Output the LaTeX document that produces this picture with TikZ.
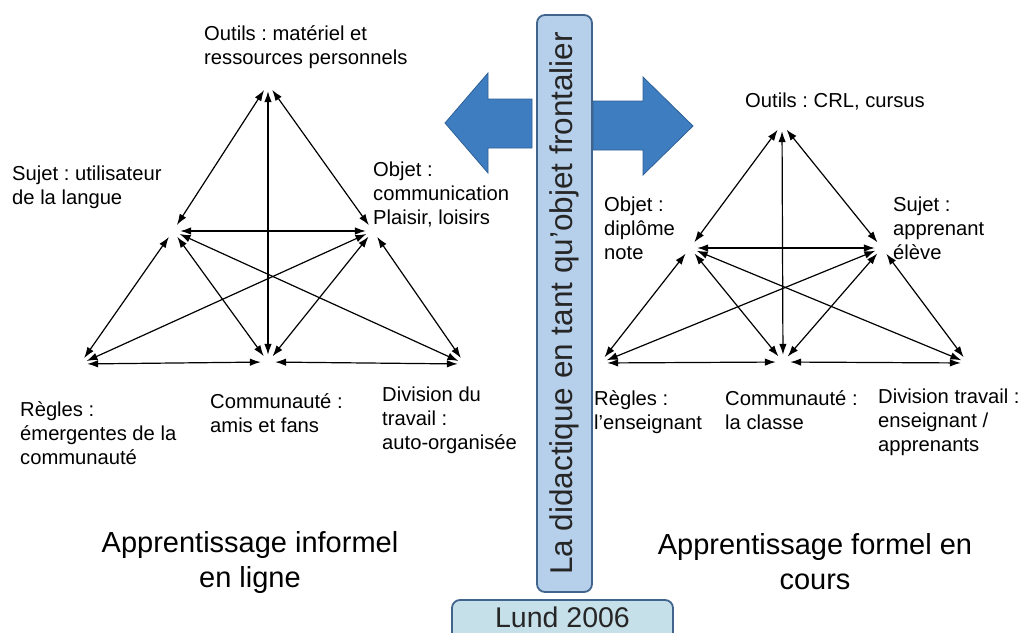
\documentclass[tikz,border=0pt]{standalone}
\usepackage{fontspec}
\setmainfont{Liberation Sans}
\usepackage{xcolor}
\usetikzlibrary{arrows.meta, positioning}
\definecolor{barblue}{RGB}{182,207,234}
\definecolor{lundblue}{RGB}{198,224,234}
\definecolor{edgeblue}{RGB}{65,100,140}
\definecolor{arrowblue}{RGB}{61,125,192}
\definecolor{arrowedge}{RGB}{47,96,150}
\frenchspacing
\begin{document}
\begin{tikzpicture}[
  x=1pt, y=-1pt,
  lbl/.style={anchor=north west, align=left, inner sep=0pt, font=\fontsize{20.2}{24}\selectfont},
  big/.style={align=center, inner sep=0pt, font=\fontsize{29}{35}\selectfont},
  vtx/.style={circle, inner sep=0pt, minimum size=14pt},
  link/.style={{Latex[length=11pt,width=7.5pt]}-{Latex[length=11pt,width=7.5pt]}, line width=1.2pt},
  block/.style={fill=arrowblue, draw=arrowedge, line width=0.8pt, line join=miter},
  panel/.style={draw=edgeblue, line width=1.8pt, rounded corners=8pt},
]
\useasboundingbox (0,0) rectangle (1022,632);

% block arrows
\draw[block] (445,123) -- (488,73) -- (488,99) -- (532,99) -- (532,148) -- (488,148) -- (488,173) -- cycle;
\draw[block] (693,126) -- (643,77) -- (643,101) -- (593,101) -- (593,150) -- (643,150) -- (643,175) -- cycle;

\node[panel, fill=barblue, rotate=90, minimum width=577pt, minimum height=55pt, inner sep=0pt,
      font=\fontsize{31.5}{36}\selectfont, text=black!85] (bar) at (564.5,303.5)
   {La didactique en tant qu’objet frontalier};
\node[panel, fill=lundblue, minimum width=221pt, minimum height=44pt, inner sep=0pt,
      text height=20.5pt, text depth=10pt,
      font=\fontsize{28.5}{34}\selectfont, text=black!85] (lund) at (562.5,622) {Lund 2006};

% left triangle
\node[vtx] (lT) at (268,84) {};
\node[vtx] (lS) at (173,231) {};
\node[vtx] (lO) at (373,231) {};
\node[vtx] (lR) at (80,364) {};
\node[vtx] (lC) at (268,362) {};
\node[vtx] (lD) at (465,364) {};

\node[lbl] (lOutils) at (204,25) {Outils : matériel et\\ressources personnels};
\node[lbl] (lSujet) at (12,166) {Sujet : utilisateur\\de la langue};
\node[lbl] (lObjet) at (373,162) {Objet :\\communication\\Plaisir, loisirs};
\node[lbl] (lRegles) at (20,401) {Règles :\\émergentes de la\\communauté};
\node[lbl] (lCommu) at (210,393) {Communauté :\\amis et fans};
\node[lbl] (lDivision) at (382,387) {Division du\\travail :\\auto-organisée};
\node[big] (lTitre) at (250,562) {Apprentissage informel\\en ligne};

\draw[link] (lT) -- (lS);
\draw[link] (lT) -- (lO);
\draw[link] (lT) -- (lC);
\draw[link] (lS) -- (lO);
\draw[link] (lS) -- (lR);
\draw[link] (lS) -- (lC);
\draw[link] (lS) -- (lD);
\draw[link] (lO) -- (lR);
\draw[link] (lO) -- (lC);
\draw[link] (lO) -- (lD);
\draw[link] (lR) -- (lC);
\draw[link] (lC) -- (lD);

% right triangle
\node[vtx] (rT) at (782,124) {};
\node[vtx] (rO) at (690,248) {};
\node[vtx] (rS) at (882,248) {};
\node[vtx] (rR) at (600,363) {};
\node[vtx] (rC) at (783,362) {};
\node[vtx] (rD) at (968,363) {};

\node[lbl] (rOutils) at (745,93) {Outils : CRL, cursus};
\node[lbl] (rObjet) at (604,197) {Objet :\\diplôme\\note};
\node[lbl] (rSujet) at (893,197) {Sujet :\\apprenant\\élève};
\node[lbl] (rRegles) at (594,390) {Règles :\\l’enseignant};
\node[lbl] (rCommu) at (725,390) {Communauté :\\la classe};
\node[lbl] (rDivision) at (878,389) {Division travail :\\enseignant /\\apprenants};
\node[big] (rTitre) at (815,562) {Apprentissage formel en\\cours};

\draw[link] (rT) -- (rO);
\draw[link] (rT) -- (rS);
\draw[link] (rT) -- (rC);
\draw[link] (rO) -- (rS);
\draw[link] (rO) -- (rR);
\draw[link] (rO) -- (rC);
\draw[link] (rO) -- (rD);
\draw[link] (rS) -- (rR);
\draw[link] (rS) -- (rC);
\draw[link] (rS) -- (rD);
\draw[link] (rR) -- (rC);
\draw[link] (rC) -- (rD);
\end{tikzpicture}
\end{document}
